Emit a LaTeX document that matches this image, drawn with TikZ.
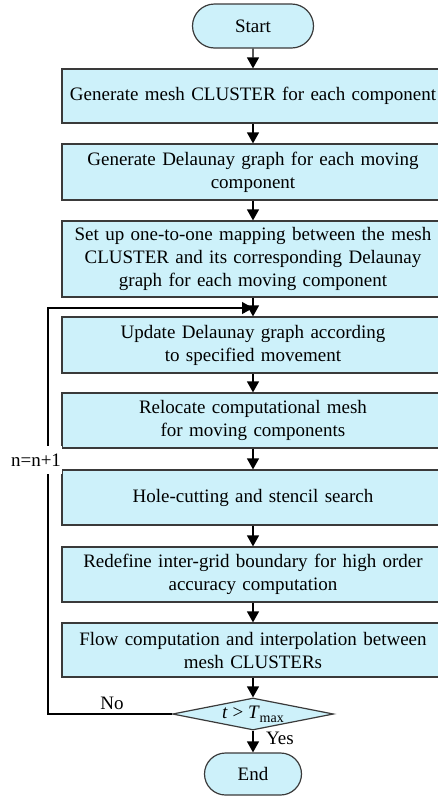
\documentclass[tikz,border=0pt]{standalone}
\usepackage{fontspec}
\setmainfont{Liberation Serif}
\usetikzlibrary{arrows.meta,shapes.geometric,shapes.misc}
\definecolor{boxfill}{HTML}{CDF1FA}
\definecolor{boxline}{HTML}{3A3A3A}
\newcommand{\flowfont}{\fontsize{19}{23}\selectfont}
\tikzset{
  stepbox/.style={draw=boxline,fill=boxfill,line width=1.2pt,minimum width=382pt,
    text width=376pt,align=center,inner sep=0pt,font=\flowfont},
  termbox/.style={draw=boxline,fill=boxfill,line width=1.2pt,rounded rectangle,
    inner sep=0pt,font=\flowfont},
  decide/.style={draw=boxline,fill=boxfill,line width=1.2pt,diamond,aspect=5,
    inner sep=0pt,minimum width=161pt,minimum height=32pt,font=\flowfont},
  flow/.style={draw=black,line width=1.2pt,-{Triangle[width=12pt,length=11pt]}},
  lbl/.style={font=\flowfont,inner sep=1pt}
}
\begin{document}
\begin{tikzpicture}[x=1pt,y=-1pt]
\useasboundingbox (0,0) rectangle (438,796);
\clip (0,0) rectangle (438,796);
\node[termbox,minimum width=121pt,minimum height=44pt] (start) at (253,26) {Start};
\node[stepbox,minimum height=54pt] (b1) at (253,96) {Generate mesh CLUSTER for each component};
\node[stepbox,minimum height=56pt] (b2) at (253,172) {Generate Delaunay graph for each moving\\component};
\node[stepbox,minimum height=76pt] (b3) at (253,259) {Set up one-to-one mapping between the mesh\\CLUSTER and its corresponding Delaunay\\graph for each moving component};
\node[stepbox,minimum height=56pt] (b4) at (253,345) {Update Delaunay graph according\\to specified movement};
\node[stepbox,minimum height=55pt] (b5) at (253,420.5) {Relocate computational mesh\\for moving components};
\node[stepbox,minimum height=55pt] (b6) at (253,497.5) {Hole-cutting and stencil search};
\node[stepbox,minimum height=55pt] (b7) at (253,574.5) {Redefine inter-grid boundary for high order\\accuracy computation};
\node[stepbox,minimum height=54pt] (b8) at (253,650) {Flow computation and interpolation between\\mesh CLUSTERs};
\node[decide] (dec) at (253,714) {\textit{t} > \textit{T}\raisebox{-0.45ex}{\fontsize{14}{14}\selectfont max}};
\node[termbox,minimum width=97pt,minimum height=42pt] (end) at (253,774) {End};

\draw[flow] (start) -- (b1);
\draw[flow] (b1) -- (b2);
\draw[flow] (b2) -- (b3);
\draw[flow] (b3) -- (b4);
\draw[flow] (b4) -- (b5);
\draw[flow] (b5) -- (b6);
\draw[flow] (b6) -- (b7);
\draw[flow] (b7) -- (b8);
\draw[flow] (b8) -- (dec);
\draw[flow] (dec) -- (end);

% loop back for the next time step
\coordinate (lb) at (48,714);
\coordinate (lt) at (48,308);
\coordinate (lm) at (253,308);
\draw[flow] (dec.west) -- (lb) -- (lt) -- (lm);
\node[lbl,fill=white,inner ysep=8pt] (inc) at (36,460) {n=n+1};
\node[lbl] (no) at (112,703) {No};
\node[lbl] (yes) at (280,738) {Yes};
\end{tikzpicture}
\end{document}
